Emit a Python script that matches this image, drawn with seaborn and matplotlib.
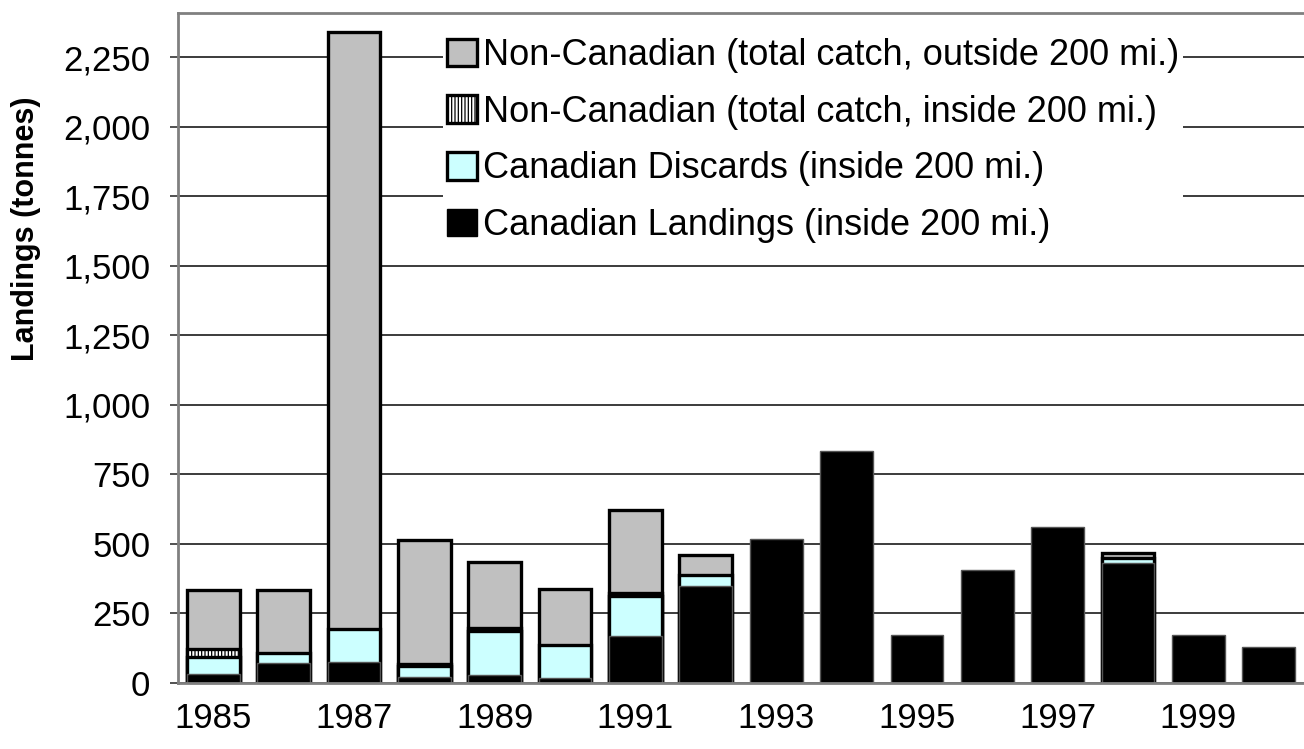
import numpy as np
import pandas as pd
import matplotlib
matplotlib.use("Agg")
import matplotlib.pyplot as plt
import seaborn as sns
from matplotlib.patches import Patch
from matplotlib.ticker import FuncFormatter, MultipleLocator

# Datos (toneladas)
YEARS = list(range(1985, 2001))
LANDINGS = [34, 72, 75, 20, 30, 17, 170, 348, 517, 835, 172, 407, 560, 432, 172, 130]
DISCARDS = [60, 37, 118, 40, 157, 120, 143, 39, 0, 0, 0, 0, 0, 18, 0, 0]
INSIDE = [28, 0, 0, 10, 10, 0, 10, 0, 0, 0, 0, 0, 0, 0, 0, 0]
OUTSIDE = [213, 226, 2147, 444, 237, 200, 300, 73, 0, 0, 0, 0, 0, 16, 0, 0]

LABELS = [
    "Canadian Landings (inside 200 mi.)",
    "Canadian Discards (inside 200 mi.)",
    "Non-Canadian (total catch, inside 200 mi.)",
    "Non-Canadian (total catch, outside 200 mi.)",
]

sns.set_style("white")
plt.rcParams["font.family"] = ["Liberation Sans", "DejaVu Sans"]
plt.rcParams["hatch.linewidth"] = 0.9
plt.rcParams["text.color"] = "black"
plt.rcParams["xtick.color"] = "black"
plt.rcParams["ytick.color"] = "black"
plt.rcParams["axes.labelcolor"] = "black"

df = pd.DataFrame({
    "year": YEARS,
    "landings": LANDINGS,
    "discards": DISCARDS,
    "inside": INSIDE,
    "outside": OUTSIDE,
})
df["c_landings"] = df["landings"]
df["c_discards"] = df["c_landings"] + df["discards"]
df["c_inside"] = df["c_discards"] + df["inside"]
df["c_outside"] = df["c_inside"] + df["outside"]

fig = plt.figure(figsize=(13.04, 7.49), dpi=100)
ax = fig.add_axes([178 / 1304, 1 - 683 / 749, 1 - 178 / 1304, (683 - 13) / 749])

ax.yaxis.set_major_locator(MultipleLocator(250))
ax.grid(axis="y", color="0.1", linewidth=1.2, zorder=0)
ax.set_axisbelow(True)

# capas acumuladas: de la más alta a la más baja
estilos = [
    ("outside", "c_outside", dict(color="#C0C0C0", edgecolor="black", linewidth=2.4)),
    ("inside", "c_inside", dict(color="white", edgecolor="black", linewidth=2.4, hatch="|||||")),
    ("discards", "c_discards", dict(color="#CCFFFF", edgecolor="black", linewidth=2.4)),
    ("landings", "c_landings", dict(color="black", edgecolor="#555555", linewidth=1.0)),
]
for seg, cum, kw in estilos:
    sub = df[df[seg] > 0]
    sns.barplot(data=sub, x="year", y=cum, order=YEARS, ax=ax, width=0.75,
                saturation=1, errorbar=None, zorder=2, **kw)

ax.set_xlim(-0.5, len(YEARS) - 0.5)
ax.set_ylim(0, 2410)
ax.yaxis.set_major_formatter(FuncFormatter(lambda v, p: f"{int(v):,}"))

ax.set_xticks(range(len(YEARS)))
ax.set_xticklabels([str(y) if i % 2 == 0 else "" for i, y in enumerate(YEARS)])
ax.set_xticks(np.arange(-0.5, len(YEARS)), minor=True)
ax.tick_params(axis="x", which="major", length=0, pad=14, labelsize=25)
ax.tick_params(axis="x", which="minor", length=8, width=1.2, color="0.2", direction="out")
ax.tick_params(axis="y", length=6, width=1.2, color="0.2", direction="out", pad=14, labelsize=25, left=True)
ax.set_xlabel("")
ax.set_ylabel("Landings (tonnes)", fontsize=22, fontweight="bold")
ax.yaxis.set_label_coords(-0.122, 0.678)

for side in ["left", "top", "bottom"]:
    ax.spines[side].set_visible(True)
    ax.spines[side].set_color("#808080")
    ax.spines[side].set_linewidth(2)
ax.spines["right"].set_visible(False)

handles = [
    Patch(facecolor="#C0C0C0", edgecolor="black", linewidth=2.4),
    Patch(facecolor="white", edgecolor="black", linewidth=2.4, hatch="|||||"),
    Patch(facecolor="#CCFFFF", edgecolor="black", linewidth=2.4),
    Patch(facecolor="black", edgecolor="black", linewidth=1.0),
]
leg = ax.legend(handles, LABELS[::-1], loc="upper left", bbox_to_anchor=(0.229, 0.979),
                fontsize=26, frameon=True, facecolor="white", edgecolor="none", framealpha=1,
                handlelength=0.85, handleheight=0.8, handletextpad=0.15, labelspacing=0.6,
                borderpad=0.1, borderaxespad=0.2, fancybox=False)
leg.set_zorder(5)

fig.savefig("out.png", dpi=100)
